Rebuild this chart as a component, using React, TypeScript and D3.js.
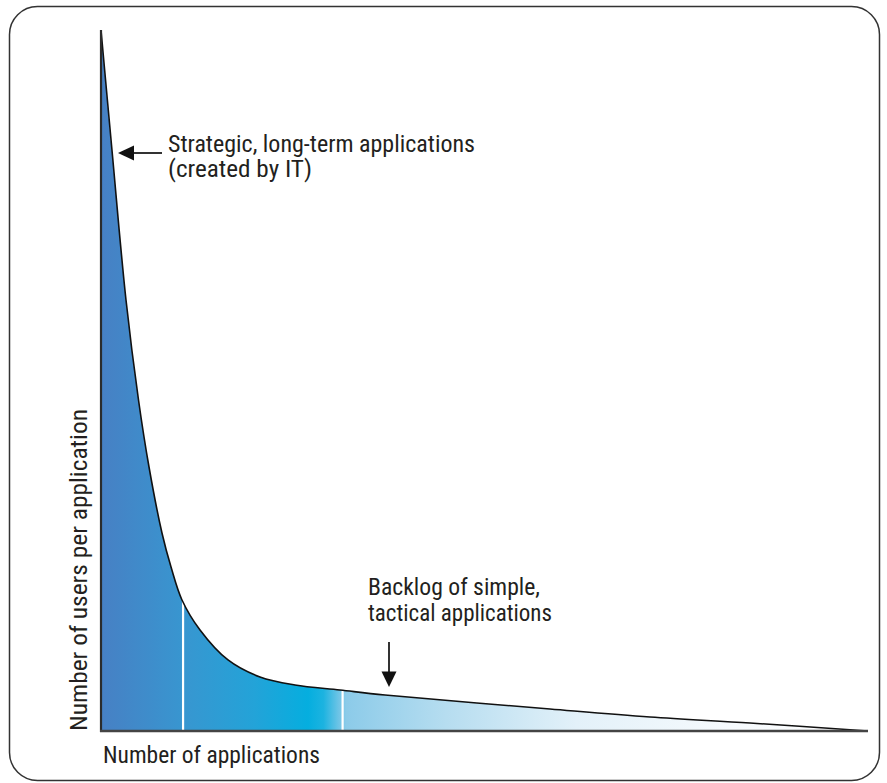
import React from "react";
import * as d3 from "d3";

// Data (arbitrary 0-100 units)
const applications = [0, 1.43, 3.26, 4.89, 6.26, 7.95, 9.13, 10.56, 12.91, 16.56, 20.73, 25.29, 31.16, 37.03, 58.54, 71.58, 84.62, 100];
const usersPerApp = [100, 82.88, 61.48, 47.22, 37.66, 28.25, 23.39, 18.69, 14.41, 10.13, 7.7, 6.56, 5.85, 5.14, 3.14, 2.0, 1.14, 0];
const segmentBreaks = [10.7, 31.5];
const annotationTop = ["Strategic, long-term applications", "(created by IT)"];
const annotationBottom = ["Backlog of simple,", "tactical applications"];
const xAxisLabel = "Number of applications";
const yAxisLabel = "Number of users per application";

const W = 887;
const H = 783;
const FONT = "'Liberation Sans Narrow', 'Roboto Condensed', 'DejaVu Sans Condensed', Roboto, sans-serif";
const TEXT = "#231f20";

export default function App() {
  const x = d3.scaleLinear().domain([0, 100]).range([101, 868]);
  const y = d3.scaleLinear().domain([0, 100]).range([731, 30]);
  const pts = applications.map((a, i) => [a, usersPerApp[i]] as [number, number]);

  const curve = d3.curveCatmullRom.alpha(0.5);
  const area = d3
    .area<[number, number]>()
    .x((d) => x(d[0]))
    .y0(y(0))
    .y1((d) => y(d[1]))
    .curve(curve);
  const line = d3
    .line<[number, number]>()
    .x((d) => x(d[0]))
    .y((d) => y(d[1]))
    .curve(curve);

  const areaPath = area(pts) || "";
  const linePath = line(pts) || "";

  const stops: [number, string][] = [
    [0, "#4780c4"],
    [0.107, "#3896d0"],
    [0.2, "#23a3d8"],
    [0.27, "#05aedf"],
    [0.29, "#1cb3e0"],
    [0.31, "#6ec4e6"],
    [0.32, "#8ccbe9"],
    [0.45, "#b6ddf0"],
    [0.62, "#e3f1f9"],
    [0.82, "#f6fafd"],
    [1, "#ffffff"],
  ];

  const fs = 23;
  return (
    <svg width={W} height={H} style={{ position: "absolute", left: 0, top: 0, background: "#fff" }}>
      <defs>
        <linearGradient id="fillGrad" gradientUnits="userSpaceOnUse" x1={x(0)} y1={0} x2={x(100)} y2={0}>
          {stops.map(([o, c], i) => (
            <stop key={i} offset={o} stopColor={c} />
          ))}
        </linearGradient>
        <clipPath id="areaClip">
          <path d={areaPath} />
        </clipPath>
      </defs>

      <rect x={9.5} y={6.5} width={870} height={774} rx={28} ry={28} fill="none" stroke="#333" strokeWidth={1.5} />

      <path d={areaPath} fill="url(#fillGrad)" />
      <g clipPath="url(#areaClip)">
        {segmentBreaks.map((b, i) => (
          <line key={i} x1={x(b)} x2={x(b)} y1={y(0)} y2={y(100)} stroke="#fff" strokeWidth={2.2} />
        ))}
      </g>
      <path d={linePath} fill="none" stroke="#111" strokeWidth={1.6} />

      {/* axes */}
      <line x1={x(0)} x2={x(0)} y1={y(100)} y2={y(0) + 1} stroke="#2b2b2b" strokeWidth={2.2} />
      <line x1={x(0) - 1} x2={x(100)} y1={y(0)} y2={y(0)} stroke="#444" strokeWidth={2.4} />

      {/* annotation top */}
      <line x1={131} x2={162} y1={153} y2={153} stroke="#333" strokeWidth={2} />
      <path d="M118,153 L134,145.5 L134,160.5 Z" fill="#111" />
      <g fontFamily={FONT} fontSize={fs} fill={TEXT}>
        <text x={168} y={152} textLength={307} lengthAdjust="spacingAndGlyphs">{annotationTop[0]}</text>
        <text x={168} y={177} textLength={144} lengthAdjust="spacingAndGlyphs">{annotationTop[1]}</text>

        <text x={368} y={595} textLength={172} lengthAdjust="spacingAndGlyphs">{annotationBottom[0]}</text>
        <text x={368} y={621} textLength={184} lengthAdjust="spacingAndGlyphs">{annotationBottom[1]}</text>

        <text x={103} y={763} textLength={217} lengthAdjust="spacingAndGlyphs">{xAxisLabel}</text>
        <text
          transform="translate(87,731) rotate(-90)"
          x={0}
          y={0}
          textLength={322}
          lengthAdjust="spacingAndGlyphs"
        >
          {yAxisLabel}
        </text>
      </g>

      {/* annotation bottom arrow */}
      <line x1={389} x2={389} y1={642} y2={674} stroke="#333" strokeWidth={2} />
      <path d="M389,687 L381.5,671.5 L396.5,671.5 Z" fill="#111" />
    </svg>
  );
}
